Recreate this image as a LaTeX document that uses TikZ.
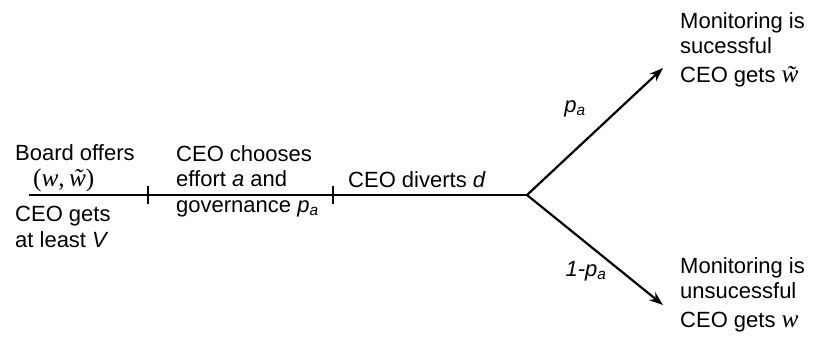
\documentclass[tikz,border=0pt]{standalone}
\usepackage{fontspec}
\setmainfont{Liberation Sans}
\newfontfamily\payfont[Scale=1.15]{Liberation Serif}
\newcommand{\pay}[1]{{\payfont\itshape #1}}
\newcommand{\paytilde}{{\payfont\itshape w\char"0303}}
\usetikzlibrary{positioning, arrows.meta, calc}

\begin{document}
\begin{tikzpicture}[
  x=1pt, y=-1pt,
  every node/.style={inner sep=0pt, font=\fontsize{22}{25.5}\selectfont},
  stage/.style={anchor=north west, align=left},
  timeline/.style={line width=2.2pt, black},
  arrow/.style={-{Stealth[length=14pt, width=10pt]}, line width=2.2pt, black},
  prob/.style={font=\fontsize{22}{25.5}\selectfont\itshape},
]
\useasboundingbox (0,0) rectangle (814,356);

% points on the timeline
\coordinate (start) at (29,195);
\coordinate (tickA) at (148,195);
\coordinate (tickB) at (333,195);
\coordinate (fork)  at (527,195);
\coordinate (up)    at (663,68);
\coordinate (down)  at (663,305);

\node[anchor=base west] (board) at (15,160) {Board offers};
\node[anchor=base west] (wage)  at (33,186) {{\payfont(}\pay{w}{\payfont,\,}\paytilde{\payfont)}};
\node[stage] (floor)  at (15,206)  {CEO gets\\at least \textit{V}};
\node[stage] (choose) at (176,145) {CEO chooses\\effort \textit{a} and\\governance \textit{p\textsubscript{a}}};
\node[anchor=base west] (divert) at (348,187) {CEO diverts \textit{d}};
\node[stage] (success) at (680,12)  {Monitoring is\\sucessful\\[3pt]CEO gets \paytilde};
\node[stage] (failure) at (680,257) {Monitoring is\\unsucessful\\[3pt]CEO gets \pay{w}};

\draw[timeline] (start) -- (fork);
\foreach \t in {tickA, tickB}
  \draw[timeline] ([yshift=9pt]\t) -- ([yshift=-9pt]\t);

\draw[arrow] (fork) -- (up)
  node[prob, midway, xshift=-20pt, yshift=23pt] (pup) {p\textsubscript{a}};
\draw[arrow] (fork) -- (down)
  node[prob, midway, xshift=-9pt, yshift=-21pt] (pdown) {1-p\textsubscript{a}};
\end{tikzpicture}
\end{document}
